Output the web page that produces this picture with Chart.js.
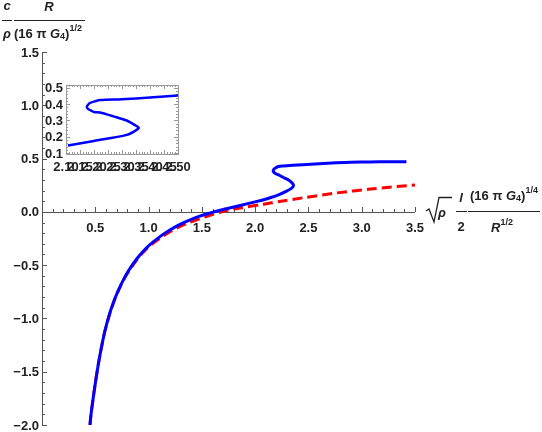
<!DOCTYPE html>
<html>
<head>
<meta charset="utf-8">
<script src="https://cdn.jsdelivr.net/npm/chart.js@4.4.1/dist/chart.umd.min.js"></script>
<style>
html, body { margin: 0; padding: 0; background: #fff; }
#wrap { position: relative; width: 542px; height: 432px; }
#mainChart, #insetChart { position: absolute; left: 0; top: 0; }
</style>
</head>
<body>
<div id="wrap">
  <canvas id="mainChart" width="542" height="432"></canvas>
  <canvas id="insetChart" width="542" height="432"></canvas>
</div>
<script>
// full solution (blue)
var blueX = [0.45, 0.46, 0.48, 0.50, 0.53, 0.56, 0.59, 0.63, 0.67, 0.71, 0.76, 0.82, 0.89, 0.95, 1.01, 1.11, 1.20, 1.30, 1.39, 1.48, 1.58, 1.67, 1.86, 2.00, 2.08, 2.14, 2.23, 2.30, 2.34, 2.36, 2.35, 2.32, 2.27, 2.22, 2.19, 2.17, 2.175, 2.19, 2.22, 2.26, 2.35, 2.45, 2.60, 2.76, 2.90, 3.08, 3.25, 3.42];
var blueY = [-2.00, -1.90, -1.75, -1.61, -1.42, -1.26, -1.12, -0.97, -0.85, -0.75, -0.645, -0.54, -0.44, -0.37, -0.31, -0.23, -0.17, -0.115, -0.075, -0.04, -0.01, 0.015, 0.06, 0.094, 0.114, 0.132, 0.165, 0.197, 0.22, 0.245, 0.268, 0.295, 0.32, 0.347, 0.36, 0.38, 0.40, 0.412, 0.425, 0.43, 0.437, 0.443, 0.452, 0.46, 0.465, 0.468, 0.47, 0.47];

// approximation (red dashed)
var redX = [0.45, 0.46, 0.48, 0.50, 0.53, 0.56, 0.59, 0.63, 0.67, 0.71, 0.76, 0.82, 0.89, 0.95, 1.01, 1.14, 1.26, 1.37, 1.48, 1.57, 1.67, 1.76, 1.86, 2.08, 2.23, 2.45, 2.76, 3.08, 3.50];
var redY = [-2.00, -1.90, -1.75, -1.61, -1.42, -1.26, -1.12, -0.975, -0.855, -0.755, -0.65, -0.548, -0.45, -0.38, -0.32, -0.225, -0.155, -0.105, -0.065, -0.035, -0.004, 0.019, 0.037, 0.072, 0.097, 0.132, 0.177, 0.214, 0.253];

// inset curve
var insetX = [2.107, 2.20, 2.317, 2.345, 2.36, 2.35, 2.317, 2.27, 2.222, 2.20, 2.19, 2.178, 2.174, 2.178, 2.186, 2.205, 2.222, 2.30, 2.40, 2.50];
var insetY = [0.147, 0.175, 0.212, 0.235, 0.255, 0.268, 0.30, 0.325, 0.349, 0.352, 0.36, 0.372, 0.382, 0.395, 0.407, 0.418, 0.425, 0.43, 0.44, 0.453];

var xTickLabels = ['0.5', '1.0', '1.5', '2.0', '2.5', '3.0', '3.5'];
var yTickLabels = ['\u22122.0', '\u22121.5', '\u22121.0', '\u22120.5', '0.0', '0.5', '1.0', '1.5'];
var insetXLabels = ['2.10', '2.15', '2.20', '2.25', '2.30', '2.35', '2.40', '2.45', '2.50'];
var insetYLabels = ['0.1', '0.2', '0.3', '0.4', '0.5'];

var LABEL_FONT = 'bold 13px "Liberation Sans", Arial, sans-serif';

function toPoints(xs, ys){
    var pts = [];
    for (var i = 0; i < xs.length; i++) pts.push({x: xs[i], y: ys[i]});
    return pts;
}

// draw a run of text pieces left to right, each with its own font and vertical shift
function drawRun(ctx, x, y, parts){
    for (var i = 0; i < parts.length; i++){
        var p = parts[i];
        ctx.font = p.font;
        ctx.fillText(p.t, x, y + (p.dy || 0));
        x += ctx.measureText(p.t).width + (p.gap || 0);
    }
    return x;
}

function runWidth(ctx, parts){
    var w = 0;
    for (var i = 0; i < parts.length; i++){
        ctx.font = parts[i].font;
        w += ctx.measureText(parts[i].t).width + (parts[i].gap || 0);
    }
    return w;
}

function hLine(ctx, x1, x2, y){
    ctx.beginPath();
    ctx.moveTo(x1, y + 0.5);
    ctx.lineTo(x2, y + 0.5);
    ctx.stroke();
}

var axesPlugin = {
    id: 'mathAxes',
    beforeDatasetsDraw: function(chart){
        var ctx = chart.ctx, xs = chart.scales.x, ys = chart.scales.y;
        var x0 = Math.round(xs.getPixelForValue(0));
        var y0 = Math.round(ys.getPixelForValue(0));
        ctx.save();
        ctx.strokeStyle = '#555';
        ctx.lineWidth = 1;
        ctx.beginPath();
        ctx.moveTo(x0 + 0.5, ys.getPixelForValue(1.5));
        ctx.lineTo(x0 + 0.5, ys.getPixelForValue(-2));
        ctx.moveTo(x0, y0 + 0.5);
        ctx.lineTo(xs.getPixelForValue(3.5), y0 + 0.5);
        ctx.stroke();

        // x ticks, pointing up
        ctx.beginPath();
        for (var i = 1; i <= 35; i++){
            var px = Math.round(xs.getPixelForValue(i / 10)) + 0.5;
            var len = (i % 5 === 0) ? 5 : 3;
            ctx.moveTo(px, y0);
            ctx.lineTo(px, y0 - len);
        }
        // y ticks, pointing right
        for (var j = -20; j <= 15; j++){
            var py = Math.round(ys.getPixelForValue(j / 10)) + 0.5;
            var ylen = (j % 5 === 0) ? 5 : 3;
            ctx.moveTo(x0, py);
            ctx.lineTo(x0 + ylen, py);
        }
        ctx.stroke();

        ctx.fillStyle = '#222';
        ctx.font = LABEL_FONT;
        ctx.textAlign = 'center';
        ctx.textBaseline = 'middle';
        for (var k = 0; k < xTickLabels.length; k++){
            ctx.fillText(xTickLabels[k], xs.getPixelForValue(parseFloat(xTickLabels[k])), y0 + 16);
        }
        ctx.textAlign = 'right';
        for (var m = 0; m < yTickLabels.length; m++){
            var v = parseFloat(yTickLabels[m].replace('\u2212', '-'));
            ctx.fillText(yTickLabels[m], x0 - 3, ys.getPixelForValue(v) + 1);
        }
        ctx.restore();
    },
    afterDraw: function(chart){
        var ctx = chart.ctx;
        var it = 'italic bold 13px "Liberation Sans", Arial, sans-serif';
        var bd = 'bold 13px "Liberation Sans", Arial, sans-serif';
        var sm = 'bold 9px "Liberation Sans", Arial, sans-serif';
        ctx.save();
        ctx.fillStyle = '#222';
        ctx.strokeStyle = '#222';
        ctx.lineWidth = 1;
        ctx.textBaseline = 'middle';

        // y axis label: c/rho * R/(16 pi G4)^(1/2)
        ctx.textAlign = 'center';
        ctx.font = it;
        ctx.fillText('c', 7, 6);
        ctx.fillText('\u03c1', 7, 34);
        hLine(ctx, 2, 12, 20);
        ctx.fillText('R', 49, 7);
        hLine(ctx, 14, 85, 20);
        ctx.textAlign = 'left';
        drawRun(ctx, 14, 34, [
            {t: '(16 ', font: bd},
            {t: '\u03c0 ', font: bd},
            {t: 'G', font: it},
            {t: '4', font: sm, dy: 3},
            {t: ')', font: bd},
            {t: '1/2', font: sm, dy: -5}
        ]);

        // x axis label: sqrt(rho) l/2 (16 pi G4)^(1/4)/R^(1/2)
        ctx.lineWidth = 1.3;
        ctx.beginPath();
        ctx.moveTo(426, 211);
        ctx.lineTo(429, 209);
        ctx.lineTo(434, 222);
        ctx.lineTo(439, 197.5);
        ctx.lineTo(452, 197.5);
        ctx.stroke();
        ctx.lineWidth = 1;
        ctx.font = it;
        ctx.fillText('\u03c1', 438, 213);
        ctx.textAlign = 'center';
        ctx.fillText('l', 461, 198);
        ctx.font = bd;
        ctx.fillText('2', 461, 227);
        hLine(ctx, 456, 467, 211);
        hLine(ctx, 468, 540, 211);
        ctx.textAlign = 'left';
        drawRun(ctx, 470, 196, [
            {t: '(16 ', font: bd},
            {t: '\u03c0 ', font: bd},
            {t: 'G', font: it},
            {t: '4', font: sm, dy: 3},
            {t: ')', font: bd},
            {t: '1/4', font: sm, dy: -5}
        ]);
        var rParts = [
            {t: 'R', font: it},
            {t: '1/2', font: sm, dy: -5}
        ];
        drawRun(ctx, 502 - runWidth(ctx, rParts) / 2, 228, rParts);
        ctx.restore();
    }
};

var insetPlugin = {
    id: 'insetFrame',
    beforeDatasetsDraw: function(chart){
        var ctx = chart.ctx, a = chart.chartArea, xs = chart.scales.x, ys = chart.scales.y;
        ctx.save();
        ctx.fillStyle = '#fff';
        ctx.fillRect(a.left, a.top, a.right - a.left, a.bottom - a.top);
        ctx.strokeStyle = '#999';
        ctx.lineWidth = 1;
        ctx.strokeRect(a.left + 0.5, a.top + 0.5, a.right - a.left, a.bottom - a.top);

        ctx.beginPath();
        for (var i = 210; i <= 250; i++){
            var px = Math.round(xs.getPixelForValue(i / 100)) + 0.5;
            var len = (i % 5 === 0) ? 4 : 2;
            ctx.moveTo(px, a.bottom);
            ctx.lineTo(px, a.bottom - len);
            ctx.moveTo(px, a.top);
            ctx.lineTo(px, a.top + len);
        }
        for (var j = 10; j <= 50; j += 2){
            var py = Math.round(ys.getPixelForValue(j / 100)) + 0.5;
            var ylen = (j % 10 === 0) ? 4 : 2;
            ctx.moveTo(a.left, py);
            ctx.lineTo(a.left + ylen, py);
            ctx.moveTo(a.right, py);
            ctx.lineTo(a.right - ylen, py);
        }
        ctx.stroke();

        ctx.fillStyle = '#222';
        ctx.font = LABEL_FONT;
        ctx.textBaseline = 'middle';
        ctx.textAlign = 'right';
        for (var m = 0; m < insetYLabels.length; m++){
            ctx.fillText(insetYLabels[m], a.left - 3, ys.getPixelForValue(parseFloat(insetYLabels[m])) + 1);
        }
        ctx.textAlign = 'center';
        for (var k = 0; k < insetXLabels.length; k++){
            ctx.fillText(insetXLabels[k], xs.getPixelForValue(parseFloat(insetXLabels[k])), a.bottom + 13);
        }
        ctx.restore();
    }
};

var baseOptions = function(pad, xMin, xMax, yMin, yMax){
    return {
        responsive: false,
        animation: false,
        devicePixelRatio: 1,
        layout: { padding: pad },
        plugins: { legend: { display: false }, tooltip: { enabled: false } },
        scales: {
            x: { type: 'linear', display: false, min: xMin, max: xMax },
            y: { type: 'linear', display: false, min: yMin, max: yMax }
        },
        elements: { point: { radius: 0 } }
    };
};

// blue listed first so it is drawn on top of the red dashes
var mainChart = new Chart(document.getElementById('mainChart'), {
    type: 'scatter',
    data: {
        datasets: [
            {
                data: toPoints(blueX, blueY),
                showLine: true,
                borderColor: '#0000ff',
                borderWidth: 3,
                tension: 0.3,
                pointRadius: 0
            },
            {
                data: toPoints(redX, redY),
                showLine: true,
                borderColor: '#ff0000',
                borderWidth: 3,
                borderDash: [10, 5],
                tension: 0.3,
                pointRadius: 0
            }
        ]
    },
    options: baseOptions({left: 42, right: 127, top: 52, bottom: 7}, 0, 3.5, -2, 1.5),
    plugins: [axesPlugin]
});

var insetChart = new Chart(document.getElementById('insetChart'), {
    type: 'scatter',
    data: {
        datasets: [{
            data: toPoints(insetX, insetY),
            showLine: true,
            borderColor: '#0000ff',
            borderWidth: 2.5,
            tension: 0.3,
            pointRadius: 0
        }]
    },
    options: baseOptions({left: 66, right: 364, top: 85, bottom: 278}, 2.1, 2.5, 0.095, 0.517),
    plugins: [insetPlugin]
});
</script>
</body>
</html>
